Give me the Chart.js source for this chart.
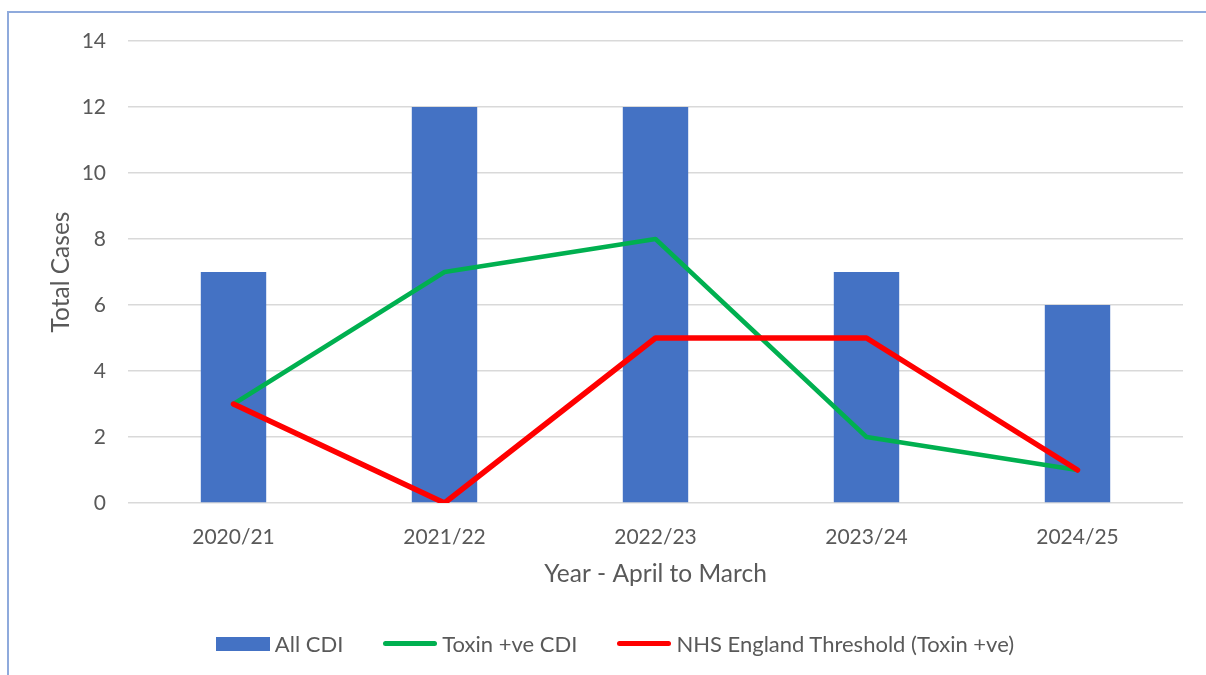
<!DOCTYPE html>
<html>
<head>
<meta charset="utf-8">
<script src="https://cdn.jsdelivr.net/npm/chart.js@4/dist/chart.umd.min.js"></script>
<style>
  html, body { margin: 0; padding: 0; background: #fff; }
  #wrap { position: relative; width: 1206px; height: 675px; overflow: hidden; }
  #frame { position: absolute; left: 7px; top: 11px; width: 1220px; height: 700px;
           border: 2px solid #8faadc; box-sizing: border-box; pointer-events: none; }
  #legend { position: absolute; left: 12px; top: 630px; width: 1206px; display: flex;
            justify-content: center; align-items: center; font-family: Lato, 'Open Sans', sans-serif;
            font-size: 22px; color: #595959; }
  .item { display: flex; align-items: center; margin: 0 20px; }
  .sw { width: 54px; margin-right: 5px; }
</style>
</head>
<body>
<div id="wrap">
  <canvas id="chart" width="1206" height="675"></canvas>
  <div id="frame"></div>
  <div id="legend"></div>
</div>
<script>
const years = ['2020/21', '2021/22', '2022/23', '2023/24', '2024/25'];
const allCdi = [7, 12, 12, 7, 6];
const toxinPos = [3, 7, 8, 2, 1];
const nhsThreshold = [3, 0, 5, 5, 1];

const TEXT = '#595959';
const GRID = '#d9d9d9';
const BLUE = '#4472c4';
const GREEN = '#00b050';
const RED = '#ff0000';
const FONT = "Lato, 'Open Sans', sans-serif";

const chart = new Chart(document.getElementById('chart'), {
  data: {
    labels: years,
    datasets: [
      {
        type: 'line',
        label: 'NHS England Threshold (Toxin +ve)',
        data: nhsThreshold,
        borderColor: RED,
        borderWidth: 5.5,
        borderCapStyle: 'round',
        borderJoinStyle: 'round',
        pointRadius: 0,
        tension: 0,
        order: 1,
      },
      {
        type: 'line',
        label: 'Toxin +ve CDI',
        data: toxinPos,
        borderColor: GREEN,
        borderWidth: 4.5,
        borderCapStyle: 'round',
        borderJoinStyle: 'round',
        pointRadius: 0,
        tension: 0,
        order: 2,
      },
      {
        type: 'bar',
        label: 'All CDI',
        data: allCdi,
        backgroundColor: BLUE,
        categoryPercentage: 1,
        barPercentage: 0.31,
        order: 3,
      },
    ],
  },
  options: {
    responsive: false,
    animation: false,
    layout: { padding: { left: 0, right: 23, top: 41, bottom: 86 } },
    plugins: {
      legend: { display: false },
      tooltip: { enabled: false },
    },
    scales: {
      x: {
        offset: true,
        grid: { display: false, drawTicks: false },
        border: { display: false },
        ticks: { color: TEXT, font: { family: FONT, size: 21 }, padding: 22, maxRotation: 0 },
        title: { display: true, text: 'Year - April to March', color: TEXT,
                 font: { family: FONT, size: 24.5 }, padding: { top: 6, bottom: 0 } },
        afterFit(scale) { scale.height = 86; },
      },
      y: {
        min: 0,
        max: 14,
        ticks: { stepSize: 2, color: TEXT, font: { family: FONT, size: 21 }, padding: 22 },
        grid: { color: GRID, lineWidth: 1.5, drawTicks: false },
        border: { display: false },
        title: { display: true, text: 'Total Cases', color: TEXT,
                 font: { family: FONT, size: 24.5 }, padding: { top: 46, bottom: 0 } },
        afterFit(scale) { scale.width = 128; },
      },
    },
  },
});

// legend in the order shown in the reference
const legendItems = [
  { text: 'All CDI', color: BLUE, h: 14, r: 0 },
  { text: 'Toxin +ve CDI', color: GREEN, h: 5, r: 3 },
  { text: 'NHS England Threshold (Toxin +ve)', color: RED, h: 5, r: 3 },
];
const legend = document.getElementById('legend');
legendItems.forEach(it => {
  const el = document.createElement('div');
  el.className = 'item';
  el.innerHTML = `<span class="sw" style="height:${it.h}px;background:${it.color};border-radius:${it.r}px"></span><span>${it.text}</span>`;
  legend.appendChild(el);
});
</script>
</body>
</html>
